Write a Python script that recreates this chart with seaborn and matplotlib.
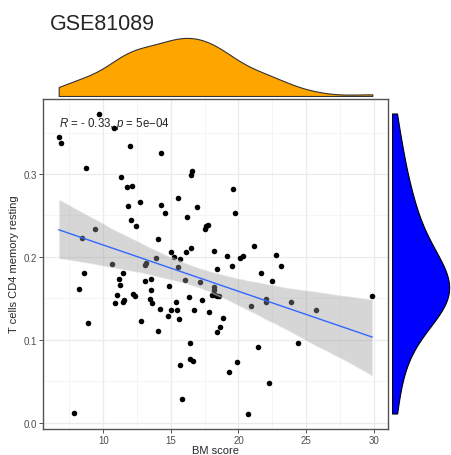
import numpy as np
import pandas as pd
import matplotlib
matplotlib.use("Agg")
import matplotlib.pyplot as plt
import seaborn as sns

sns.set_theme(style="white")
plt.rcParams['font.family'] = ['Liberation Sans', 'DejaVu Sans']
plt.rcParams['mathtext.fontset'] = 'custom'
plt.rcParams['mathtext.rm'] = 'Liberation Sans'
plt.rcParams['mathtext.it'] = 'Liberation Sans:italic'

title = "GSE81089"
x_label = "BM score"
y_label = "T cells CD4 memory resting"
stat_label = r"$\it{R}$ = - 0.33, $\it{p}$ = 5e$-$04"

bm_score = [6.70, 6.90, 9.68, 10.81, 12.01, 14.30, 8.72, 11.33, 11.72, 12.09,
            12.73, 11.85, 14.25, 16.47, 16.55, 19.59, 15.54, 16.96, 12.07, 12.44,
            9.36, 8.45, 14.05, 10.64, 13.15, 13.08, 13.89, 8.60, 11.43, 11.13,
            11.20, 13.10, 13.52, 13.54, 8.21, 11.01, 11.56, 11.45, 10.83, 12.21,
            12.34, 13.49, 13.59, 14.23, 8.84, 7.84, 12.76, 14.01, 14.87, 14.75,
            15.04, 15.36, 15.48, 15.61, 15.54, 15.68, 16.06, 16.31, 16.40, 16.44,
            16.66, 15.70, 15.80, 16.73, 17.18, 14.60, 16.17, 19.73, 17.53, 17.63,
            17.72, 15.00, 15.26, 16.13, 16.47, 18.21, 19.15, 19.50, 18.43, 20.11,
            20.33, 21.12, 22.77, 21.66, 22.47, 18.21, 18.21, 18.10, 18.27, 18.40,
            18.58, 18.02, 17.28, 22.02, 22.04, 20.93, 23.16, 17.82, 18.83, 18.66,
            18.39, 23.87, 25.74, 29.90, 21.42, 24.41, 19.89, 19.28, 22.25, 20.72]
t_cd4 = [0.345, 0.337, 0.373, 0.355, 0.334, 0.325, 0.3075, 0.296, 0.284, 0.285,
         0.266, 0.261, 0.262, 0.299, 0.303, 0.282, 0.271, 0.260, 0.244, 0.237,
         0.233, 0.2225, 0.222, 0.191, 0.193, 0.190, 0.198, 0.181, 0.180, 0.173,
         0.1665, 0.171, 0.173, 0.160, 0.161, 0.1536, 0.148, 0.145, 0.1447, 0.155,
         0.153, 0.1496, 0.1447, 0.1375, 0.1197, 0.0113, 0.122, 0.110, 0.165, 0.1285,
         0.1355, 0.1455, 0.1355, 0.1245, 0.188, 0.1975, 0.172, 0.1515, 0.096, 0.077,
         0.074, 0.069, 0.028, 0.136, 0.170, 0.253, 0.2475, 0.253, 0.233, 0.237,
         0.239, 0.206, 0.1995, 0.206, 0.211, 0.2075, 0.2007, 0.189, 0.1855, 0.199,
         0.201, 0.213, 0.2027, 0.181, 0.1705, 0.164, 0.160, 0.155, 0.1535, 0.153,
         0.153, 0.154, 0.148, 0.1496, 0.145, 0.1407, 0.1894, 0.133, 0.1257, 0.115,
         0.1088, 0.145, 0.1358, 0.153, 0.0915, 0.096, 0.0726, 0.0613, 0.0472, 0.0109]

x_ticks = [10, 15, 20, 25, 30]
y_ticks = [0.0, 0.1, 0.2, 0.3]

df = pd.DataFrame({"bm": bm_score, "tc": t_cd4})

fig = plt.figure(figsize=(4.52, 4.56), dpi=100)
W, H = 452, 456
ax = fig.add_axes([43 / W, 1 - 429.5 / H, 345 / W, 330 / H])
ax_top = fig.add_axes([43 / W, 1 - 97 / H, 345 / W, 61 / H])
ax_right = fig.add_axes([392 / W, 1 - 429.5 / H, 60 / W, 330 / H])

# main scatter + fit
sns.scatterplot(data=df, x="bm", y="tc", color="black", s=16, linewidth=0, ax=ax, zorder=3)
sns.regplot(data=df, x="bm", y="tc", scatter=False, ax=ax, seed=1, n_boot=2000,
            line_kws={"color": "#3366FF", "lw": 1.0, "zorder": 5})
for coll in ax.collections[1:]:
    coll.set_facecolor("#999999")
    coll.set_alpha(0.4)
    coll.set_zorder(4)

xr = max(bm_score) - min(bm_score)
yr = max(t_cd4) - min(t_cd4)
ax.set_xlim(min(bm_score) - 0.05 * xr, max(bm_score) + 0.05 * xr)
ax.set_ylim(min(t_cd4) - 0.05 * yr, max(t_cd4) + 0.05 * yr)
ax.set_xticks(x_ticks)
ax.set_yticks(y_ticks)
ax.set_yticklabels([f"{t:.1f}" for t in y_ticks])
ax.set_xticks([7.5, 12.5, 17.5, 22.5, 27.5], minor=True)
ax.set_yticks([0.05, 0.15, 0.25, 0.35], minor=True)
ax.grid(which="major", color="#EBEBEB", lw=0.9)
ax.grid(which="minor", color="#F2F2F2", lw=0.5)
ax.set_axisbelow(True)
ax.tick_params(which="major", length=3, width=0.6, color="#333333",
               labelsize=7, labelcolor="#4D4D4D", pad=1.5, bottom=True, left=True)
ax.tick_params(which="minor", length=0)
for sp in ax.spines.values():
    sp.set_color("#555555")
    sp.set_linewidth(1.0)
ax.set_xlabel(x_label, fontsize=8, labelpad=0)
ax.set_ylabel(y_label, fontsize=8, labelpad=3)
ax.text(min(bm_score), 0.362, stat_label, fontsize=8.3, ha="left", va="center", zorder=6)

# top marginal
sns.kdeplot(x=bm_score, ax=ax_top, fill=True, cut=0, bw_adjust=0.9,
            color="#333333", facecolor="#FFA500", alpha=1, lw=0.8)
ax_top.set_xlim(ax.get_xlim())
ax_top.set_ylim(bottom=0)
ax_top.margins(y=0)
ax_top.axis("off")

# right marginal
sns.kdeplot(y=t_cd4, ax=ax_right, fill=True, cut=0, bw_adjust=1.25,
            color="black", facecolor="#0000FF", alpha=1, lw=0.8)
ax_right.set_ylim(ax.get_ylim())
ax_right.set_xlim(left=0)
ax_right.margins(x=0)
ax_right.axis("off")

fig.text(50 / W, 1 - 25 / H, title, fontsize=15.5, ha="left", va="center")

fig.savefig("out.png", dpi=100)
